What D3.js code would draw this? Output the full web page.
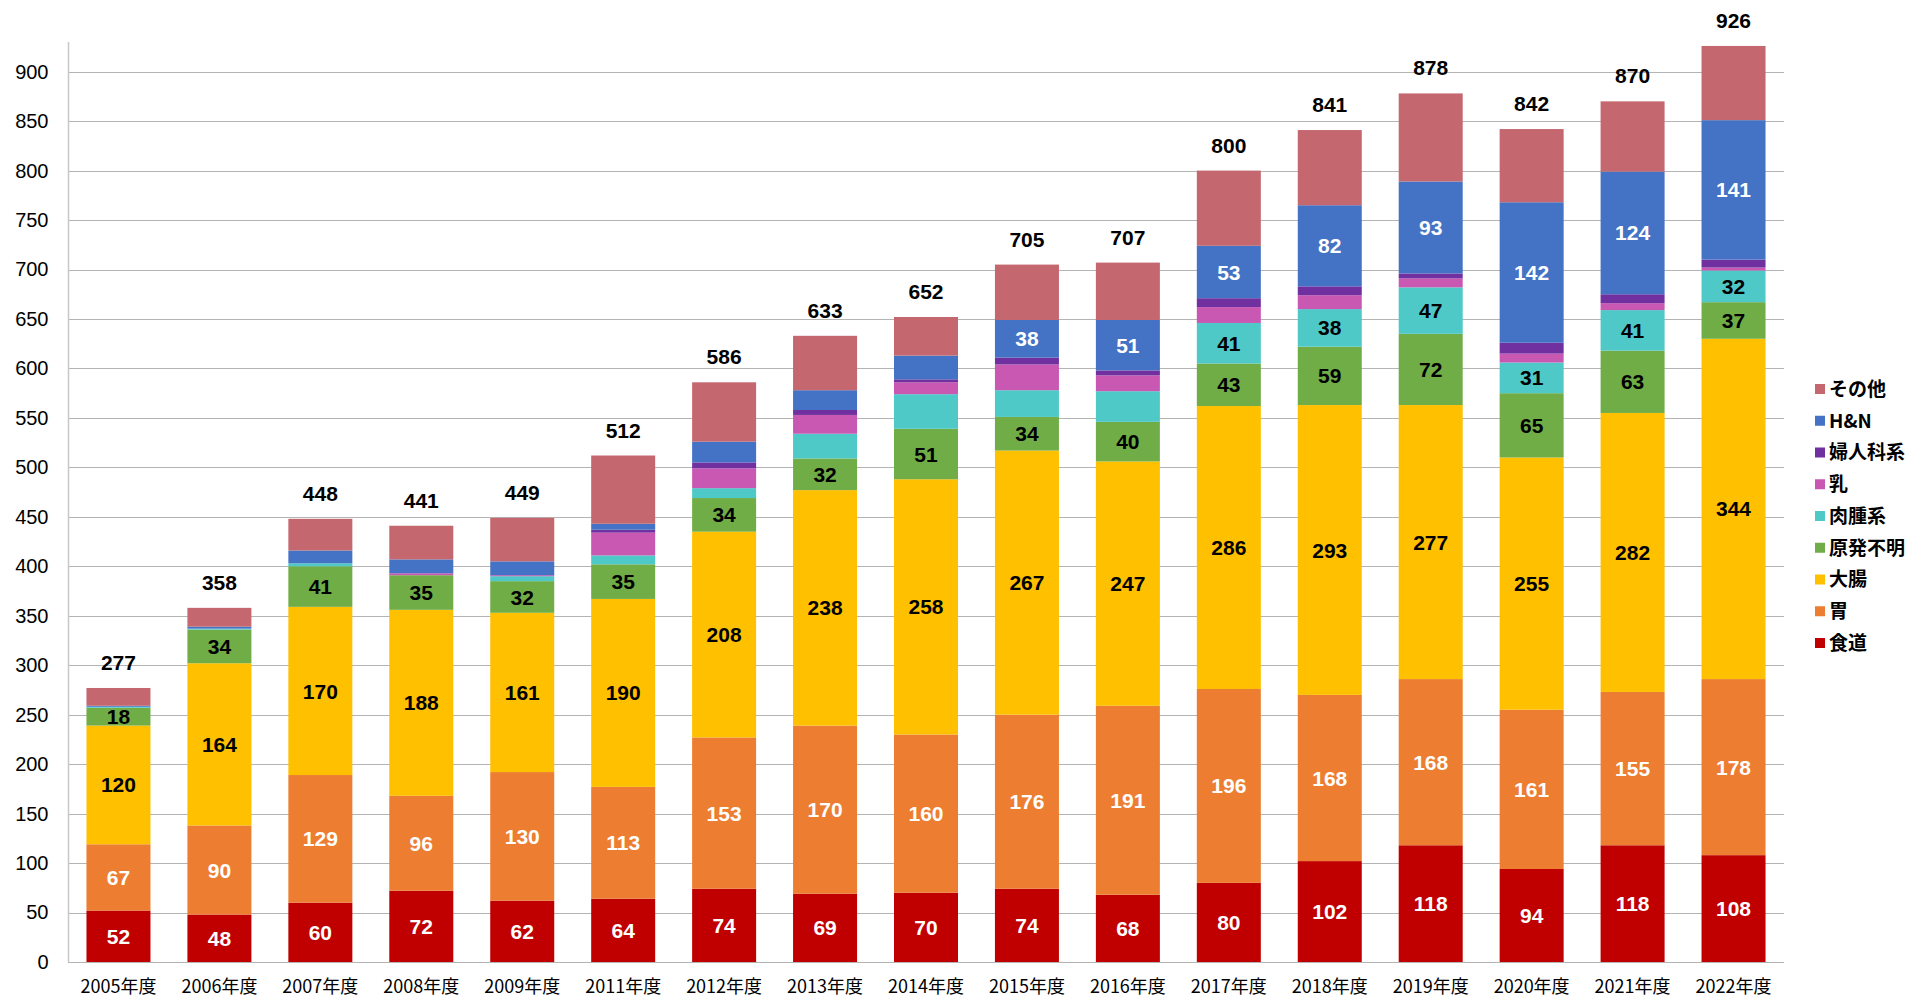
<!DOCTYPE html>
<html><head><meta charset="utf-8">
<script src="https://cdn.jsdelivr.net/npm/d3@7"></script>
<style>
html,body{margin:0;padding:0;background:#fff;}
svg{display:block;}
</style></head>
<body>
<svg id="chart" width="1920" height="1005"></svg>
<script>
const years = ["2005年度","2006年度","2007年度","2008年度","2009年度","2011年度","2012年度","2013年度","2014年度","2015年度","2016年度","2017年度","2018年度","2019年度","2020年度","2021年度","2022年度"];
const esophagus = [52,48,60,72,62,64,74,69,70,74,68,80,102,118,94,118,108];
const stomach   = [67,90,129,96,130,113,153,170,160,176,191,196,168,168,161,155,178];
const colon     = [120,164,170,188,161,190,208,238,258,267,247,286,293,277,255,282,344];
const unknown   = [18,34,41,35,32,35,34,32,51,34,40,43,59,72,65,63,37];
const sarcoma   = [1,1,3,0,5,9,10,25,35,27,31,41,38,47,31,41,32];
const breast    = [0,0,0,2,1,23,20,19,12,26,16,16,14,9,9,7,3];
const gyn       = [0,0,0,0,0,3,6,5,3,7,5,9,9,5,11,9,8];
const hn        = [1,2,13,14,14,6,21,20,24,38,51,53,82,93,142,124,141];
const other     = [18,19,32,34,44,69,60,55,39,56,58,76,76,89,74,71,75];
const yTicks = [0,50,100,150,200,250,300,350,400,450,500,550,600,650,700,750,800,850,900];
const sarcomaLabelYears = ["2017年度","2018年度","2019年度","2020年度","2021年度","2022年度"];
const hnLabelYears = ["2015年度","2016年度","2017年度","2018年度","2019年度","2020年度","2021年度","2022年度"];

const series = [
  {name:"食道", values:esophagus, color:"#C00000", label:"#fff", show:()=>true},
  {name:"胃", values:stomach, color:"#ED7D31", label:"#fff", show:()=>true},
  {name:"大腸", values:colon, color:"#FFC000", label:"#000", show:()=>true},
  {name:"原発不明", values:unknown, color:"#70AD47", label:"#000", show:()=>true},
  {name:"肉腫系", values:sarcoma, color:"#4FC8C8", label:"#000", show:y=>sarcomaLabelYears.includes(y)},
  {name:"乳", values:breast, color:"#C858B2", label:"#000", show:()=>false},
  {name:"婦人科系", values:gyn, color:"#7030A0", label:"#fff", show:()=>false},
  {name:"H&N", values:hn, color:"#4472C4", label:"#fff", show:y=>hnLabelYears.includes(y)},
  {name:"その他", values:other, color:"#C4676F", label:"#fff", show:()=>false}
];

const svg = d3.select("#chart");
const pLeft = 68, pRight = 1784, pTop = 42, pBottom = 962;
const x = d3.scaleBand().domain(years).range([pLeft, pRight]).paddingInner(0.366).paddingOuter(0.183);
const y = d3.scaleLinear().domain([0, 930]).range([pBottom, pTop]);

// gridlines
svg.append("g").selectAll("line").data(yTicks.filter(d=>d>0)).join("line")
  .attr("x1", pLeft).attr("x2", pRight)
  .attr("y1", d=>Math.round(y(d))+0.5).attr("y2", d=>Math.round(y(d))+0.5)
  .attr("stroke", "#b4b4b4").attr("stroke-width", 1);

// stack
const rows = years.map((yr,i)=>{
  const o = {year: yr};
  series.forEach(s=>o[s.name]=s.values[i]);
  return o;
});
const stack = d3.stack().keys(series.map(s=>s.name))(rows);

const g = svg.append("g");
stack.forEach((layer, li)=>{
  const s = series[li];
  g.append("g").selectAll("rect").data(layer).join("rect")
    .attr("x", d=>x(d.data.year))
    .attr("width", x.bandwidth())
    .attr("y", d=>y(d[1]))
    .attr("height", d=>Math.max(0, y(d[0]) - y(d[1])))
    .attr("fill", s.color);
});

// segment labels
stack.forEach((layer, li)=>{
  const s = series[li];
  g.append("g").selectAll("text").data(layer.filter(d=>s.show(d.data.year))).join("text")
    .attr("x", d=>x(d.data.year) + x.bandwidth()/2)
    .attr("y", d=>(y(d[0]) + y(d[1]))/2)
    .attr("dy", "0.36em")
    .attr("text-anchor", "middle")
    .attr("font-family", "Liberation Sans, Arial, sans-serif")
    .attr("font-weight", "bold")
    .attr("font-size", 21)
    .attr("fill", s.label)
    .text(d=>d.data[s.name]);
});

// totals
const totals = years.map((yr,i)=>d3.sum(series, s=>s.values[i]));
svg.append("g").selectAll("text").data(years).join("text")
  .attr("x", d=>x(d) + x.bandwidth()/2)
  .attr("y", (d,i)=>y(totals[i]) - 18)
  .attr("text-anchor", "middle")
  .attr("font-family", "Liberation Sans, Arial, sans-serif")
  .attr("font-weight", "bold")
  .attr("font-size", 21)
  .attr("fill", "#000")
  .text((d,i)=>totals[i]);

// y axis
const yAxis = d3.axisLeft(y).tickValues(yTicks).tickSize(0).tickPadding(20);
const ya = svg.append("g").attr("transform", `translate(${pLeft+0.5},0)`).call(yAxis);
ya.select(".domain").attr("stroke", "#c8c8c8").attr("stroke-width", 1.5).attr("d", `M0,${pTop}V${pBottom}`);
ya.selectAll("text").attr("font-family", "Liberation Sans, Arial, sans-serif").attr("font-size", 20).attr("fill", "#000");

// x axis
const xAxis = d3.axisBottom(x).tickSize(0).tickPadding(18);
const xa = svg.append("g").attr("transform", `translate(0,${pBottom+0.5})`).call(xAxis);
xa.select(".domain").attr("stroke", "#b4b4b4").attr("stroke-width", 1).attr("d", `M${pLeft},0H${pRight}`);
xa.selectAll("text").attr("font-family", "Noto Sans CJK JP, sans-serif").attr("font-size", 18).attr("fill", "#000");

// legend
const legendOrder = series.slice().reverse();
const lg = svg.append("g").attr("transform", "translate(1815,389)");
const li = lg.selectAll("g").data(legendOrder).join("g").attr("transform", (d,i)=>`translate(0,${i*31.75})`);
li.append("rect").attr("x",0).attr("y",-5).attr("width",10).attr("height",10).attr("fill", d=>d.color);
li.append("text").attr("x", 14).attr("dy","0.36em")
  .attr("font-family", "Noto Sans CJK JP, sans-serif").attr("font-weight", "bold").attr("font-size", 19)
  .attr("fill", "#000").text(d=>d.name);
</script>
</body></html>
